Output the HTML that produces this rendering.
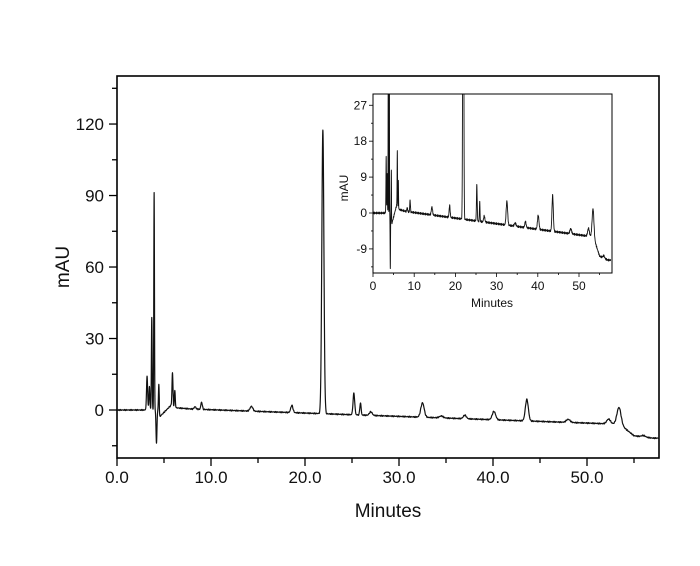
<!DOCTYPE html>
<html><head><meta charset="utf-8"><style>
body{margin:0;background:#fff}
svg text{font-family:"Liberation Sans",Arial,sans-serif;fill:#111}
</style></head><body>
<svg id="s" width="700" height="561" xmlns="http://www.w3.org/2000/svg">
<rect width="700" height="561" fill="#fff"/>
<g id="main"></g>
<g id="ins"></g>
<text x="388" y="517" font-size="19" text-anchor="middle">Minutes</text>
<text transform="translate(69,267) rotate(-90)" font-size="19" text-anchor="middle">mAU</text>
<text x="492" y="307" font-size="12" text-anchor="middle">Minutes</text>
<text transform="translate(348,188) rotate(-90)" font-size="12" text-anchor="middle">mAU</text>
</svg>
<script>
var NS="http://www.w3.org/2000/svg";
function el(p,t,a,txt){var e=document.createElementNS(NS,t);for(var k in a)e.setAttribute(k,a[k]);if(txt!==undefined)e.textContent=txt;p.appendChild(e);return e;}
var peaks=[[3.2,14,.06],[3.45,10,.05],[3.7,39,.04],[3.95,91,.035],[4.2,-14,.05],[4.45,11,.04],[5.9,13,.05],[6.15,7,.05],[8.3,1,.1],[9.0,3,.08],[14.3,2,.15],[18.6,3,.12],[21.9,119,.11],[25.2,9,.09],[25.9,5,.07],[27,1.5,.15],[32.5,6,.18],[34.5,.8,.2],[37,1.5,.16],[40.1,3.5,.18],[43.6,9,.16],[48,1.3,.2],[52.3,2,.2],[53.4,7,.22],[56,.6,.2]];
function base(t){
 if(t<3)return 0;
 var b;
 if(t<4.5)b=0; else if(t<6)b=-3+(t-4.5)*4; else if(t<8)b=1-(t-6)*0.3;
 else if(t<53.5)b=0.4-(t-8)*0.14; else b=-6-(t<55?(t-53.5)*3.2:4.8+(t-55)*0.5);
 if(t>53.5)b=Math.max(b,-11.8);
 return b;}
function f(t){var y=base(t);for(var i=0;i<peaks.length;i++){var p=peaks[i],d=(t-p[0])/p[2];if(Math.abs(d)<6)y+=p[1]*Math.exp(-d*d/2);}
 y+=0.25*Math.sin(t*37)*Math.sin(t*5.3);return y;}
function plot(g,X,Y,x0,x1,yclip0,yclip1,sw){
 var d="";for(var t=0;t<=57.7;t+=0.01){var y=f(t);var py=Y(y);py=Math.max(yclip0,Math.min(yclip1,py));d+=(d?"L":"M")+X(t).toFixed(2)+" "+py.toFixed(2);}
 el(g,"path",{d:d,fill:"none",stroke:"#111","stroke-width":sw,"stroke-linejoin":"round"});}
var m=document.getElementById("main");
var MX=function(t){return 117+t*9.4},MY=function(v){return 410-v*2.383};
el(m,"rect",{x:117,y:76,width:542,height:382,fill:"none",stroke:"#000","stroke-width":1.6});
for(var v=-15;v<=135;v+=15){var y=MY(v);el(m,"line",{x1:v%30==0?109:112,x2:117,y1:y,y2:y,stroke:"#000","stroke-width":1.3});
 if(v%30==0)el(m,"text",{x:104,y:y+6,"font-size":17,"text-anchor":"end"},v);}
for(var t=0;t<=55;t+=5){var x=MX(t);el(m,"line",{x1:x,x2:x,y1:458,y2:t%10==0?466:463,stroke:"#000","stroke-width":1.3});
 if(t%10==0)el(m,"text",{x:x,y:483,"font-size":17,"text-anchor":"middle"},t.toFixed(1));}
plot(m,MX,MY,0,0,77,457,1.2);
var g=document.getElementById("ins");
var IX=function(t){return 373+t*4.12},IY=function(v){return 213-v*3.99};
el(g,"rect",{x:373,y:94,width:239,height:179,fill:"#fff",stroke:"#000","stroke-width":1});
plot(g,IX,IY,0,0,94,273,0.9);
el(g,"rect",{x:373,y:94,width:239,height:179,fill:"none",stroke:"#000","stroke-width":1});
for(var v=-13.5;v<=27;v+=4.5){var y=IY(v);el(g,"line",{x1:Math.abs(v%9)<.01?369:371,x2:373,y1:y,y2:y,stroke:"#000","stroke-width":0.8});
 if(Math.abs(v%9)<.01)el(g,"text",{x:367,y:y+4,"font-size":12,"text-anchor":"end"},v);}
for(var t=0;t<=55;t+=5){var x=IX(t);el(g,"line",{x1:x,x2:x,y1:273,y2:t%10==0?277:275,stroke:"#000","stroke-width":0.8});
 if(t%10==0)el(g,"text",{x:x,y:290,"font-size":12,"text-anchor":"middle"},t);}
</script>
</body></html>
